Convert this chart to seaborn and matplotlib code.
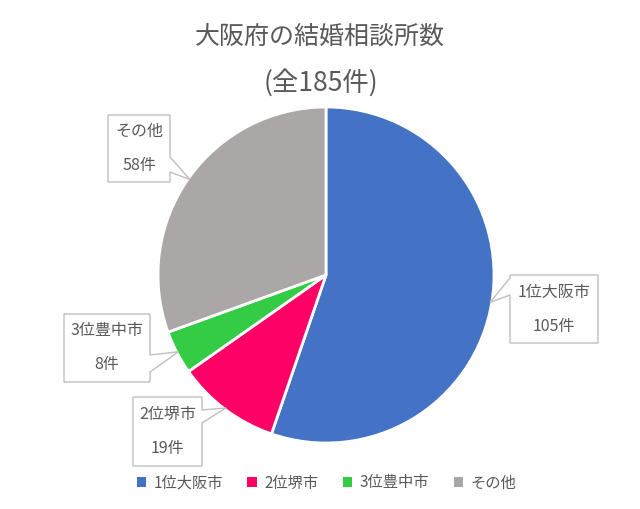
import numpy as np
import seaborn as sns
import matplotlib.pyplot as plt
from matplotlib.patches import Polygon, Patch

# Data
labels = ['1位大阪市', '2位堺市', '3位豊中市', 'その他']
counts = [105, 19, 8, 58]
title = '大阪府の結婚相談所数'
subtitle = '(全185件)'

colors = ['#4472C4', '#FF0066', '#33CC44', '#ABA7A7']
text_color = '#595959'

sns.set_theme(style='white')
plt.rcParams['font.family'] = ['Noto Sans CJK JP', 'DejaVu Sans']

W, H = 640, 509
fig = plt.figure(figsize=(W / 100, H / 100), dpi=100)
ax = fig.add_axes([0, 0, 1, 1])
ax.set_xlim(0, W)
ax.set_ylim(0, H)
ax.set_aspect('equal')
ax.axis('off')

cx, cy, r = 326, H - 275, 168
wedges, _ = ax.pie(counts, colors=colors, startangle=90, counterclock=False,
                   center=(cx, cy), radius=r,
                   wedgeprops=dict(edgecolor='white', linewidth=2))
ax.set_xlim(0, W)
ax.set_ylim(0, H)

# callout boxes (pixel coords, y down): x0, x1, y0, y1, side, base y from/to
boxes = [
    (510, 598, 275, 343, 'left', 278, 295),
    (133, 202, 397, 466, 'right', 410, 423),
    (64, 150, 314, 382, 'right', 355, 372),
    (108, 170, 115, 182, 'right', 157, 172),
]

for w, n, lab, (x0, x1, y0, y1, side, b0, b1) in zip(wedges, counts, labels, boxes):
    mid = np.deg2rad((w.theta1 + w.theta2) / 2)
    tx = cx + r * 0.99 * np.cos(mid)
    ty = cy + r * 0.99 * np.sin(mid)
    Y = lambda y: H - y
    if side == 'right':
        pts = [(x0, Y(y0)), (x1, Y(y0)), (x1, Y(b0)), (tx, ty), (x1, Y(b1)),
               (x1, Y(y1)), (x0, Y(y1))]
    else:
        pts = [(x0, Y(y0)), (x1, Y(y0)), (x1, Y(y1)), (x0, Y(y1)),
               (x0, Y(b1)), (tx, ty), (x0, Y(b0))]
    ax.add_patch(Polygon(pts, closed=True, facecolor='white',
                         edgecolor='#BFBFBF', linewidth=1, zorder=5))
    xm = (x0 + x1) / 2
    h = y1 - y0
    ax.text(xm, Y(y0 + h * 0.25), lab, ha='center', va='center',
            fontsize=11.5, color=text_color, zorder=6)
    ax.text(xm, Y(y0 + h * 0.75), f'{n}件', ha='center', va='center',
            fontsize=11.5, color=text_color, zorder=6)

ax.text(W / 2, H - 37, title, ha='center', va='center', fontsize=18, color=text_color)
ax.text(W / 2 + 1, H - 83, subtitle, ha='center', va='center', fontsize=19, color=text_color)

handles = [Patch(facecolor=c, edgecolor='none') for c in colors]
fig.legend(handles, labels, loc='center', bbox_to_anchor=(0.51, 1 - 483 / H),
           ncol=4, frameon=False, fontsize=11, handlelength=0.6, handleheight=0.6,
           handletextpad=0.5, columnspacing=1.6, labelcolor=text_color)

fig.savefig('out.png', dpi=100)
